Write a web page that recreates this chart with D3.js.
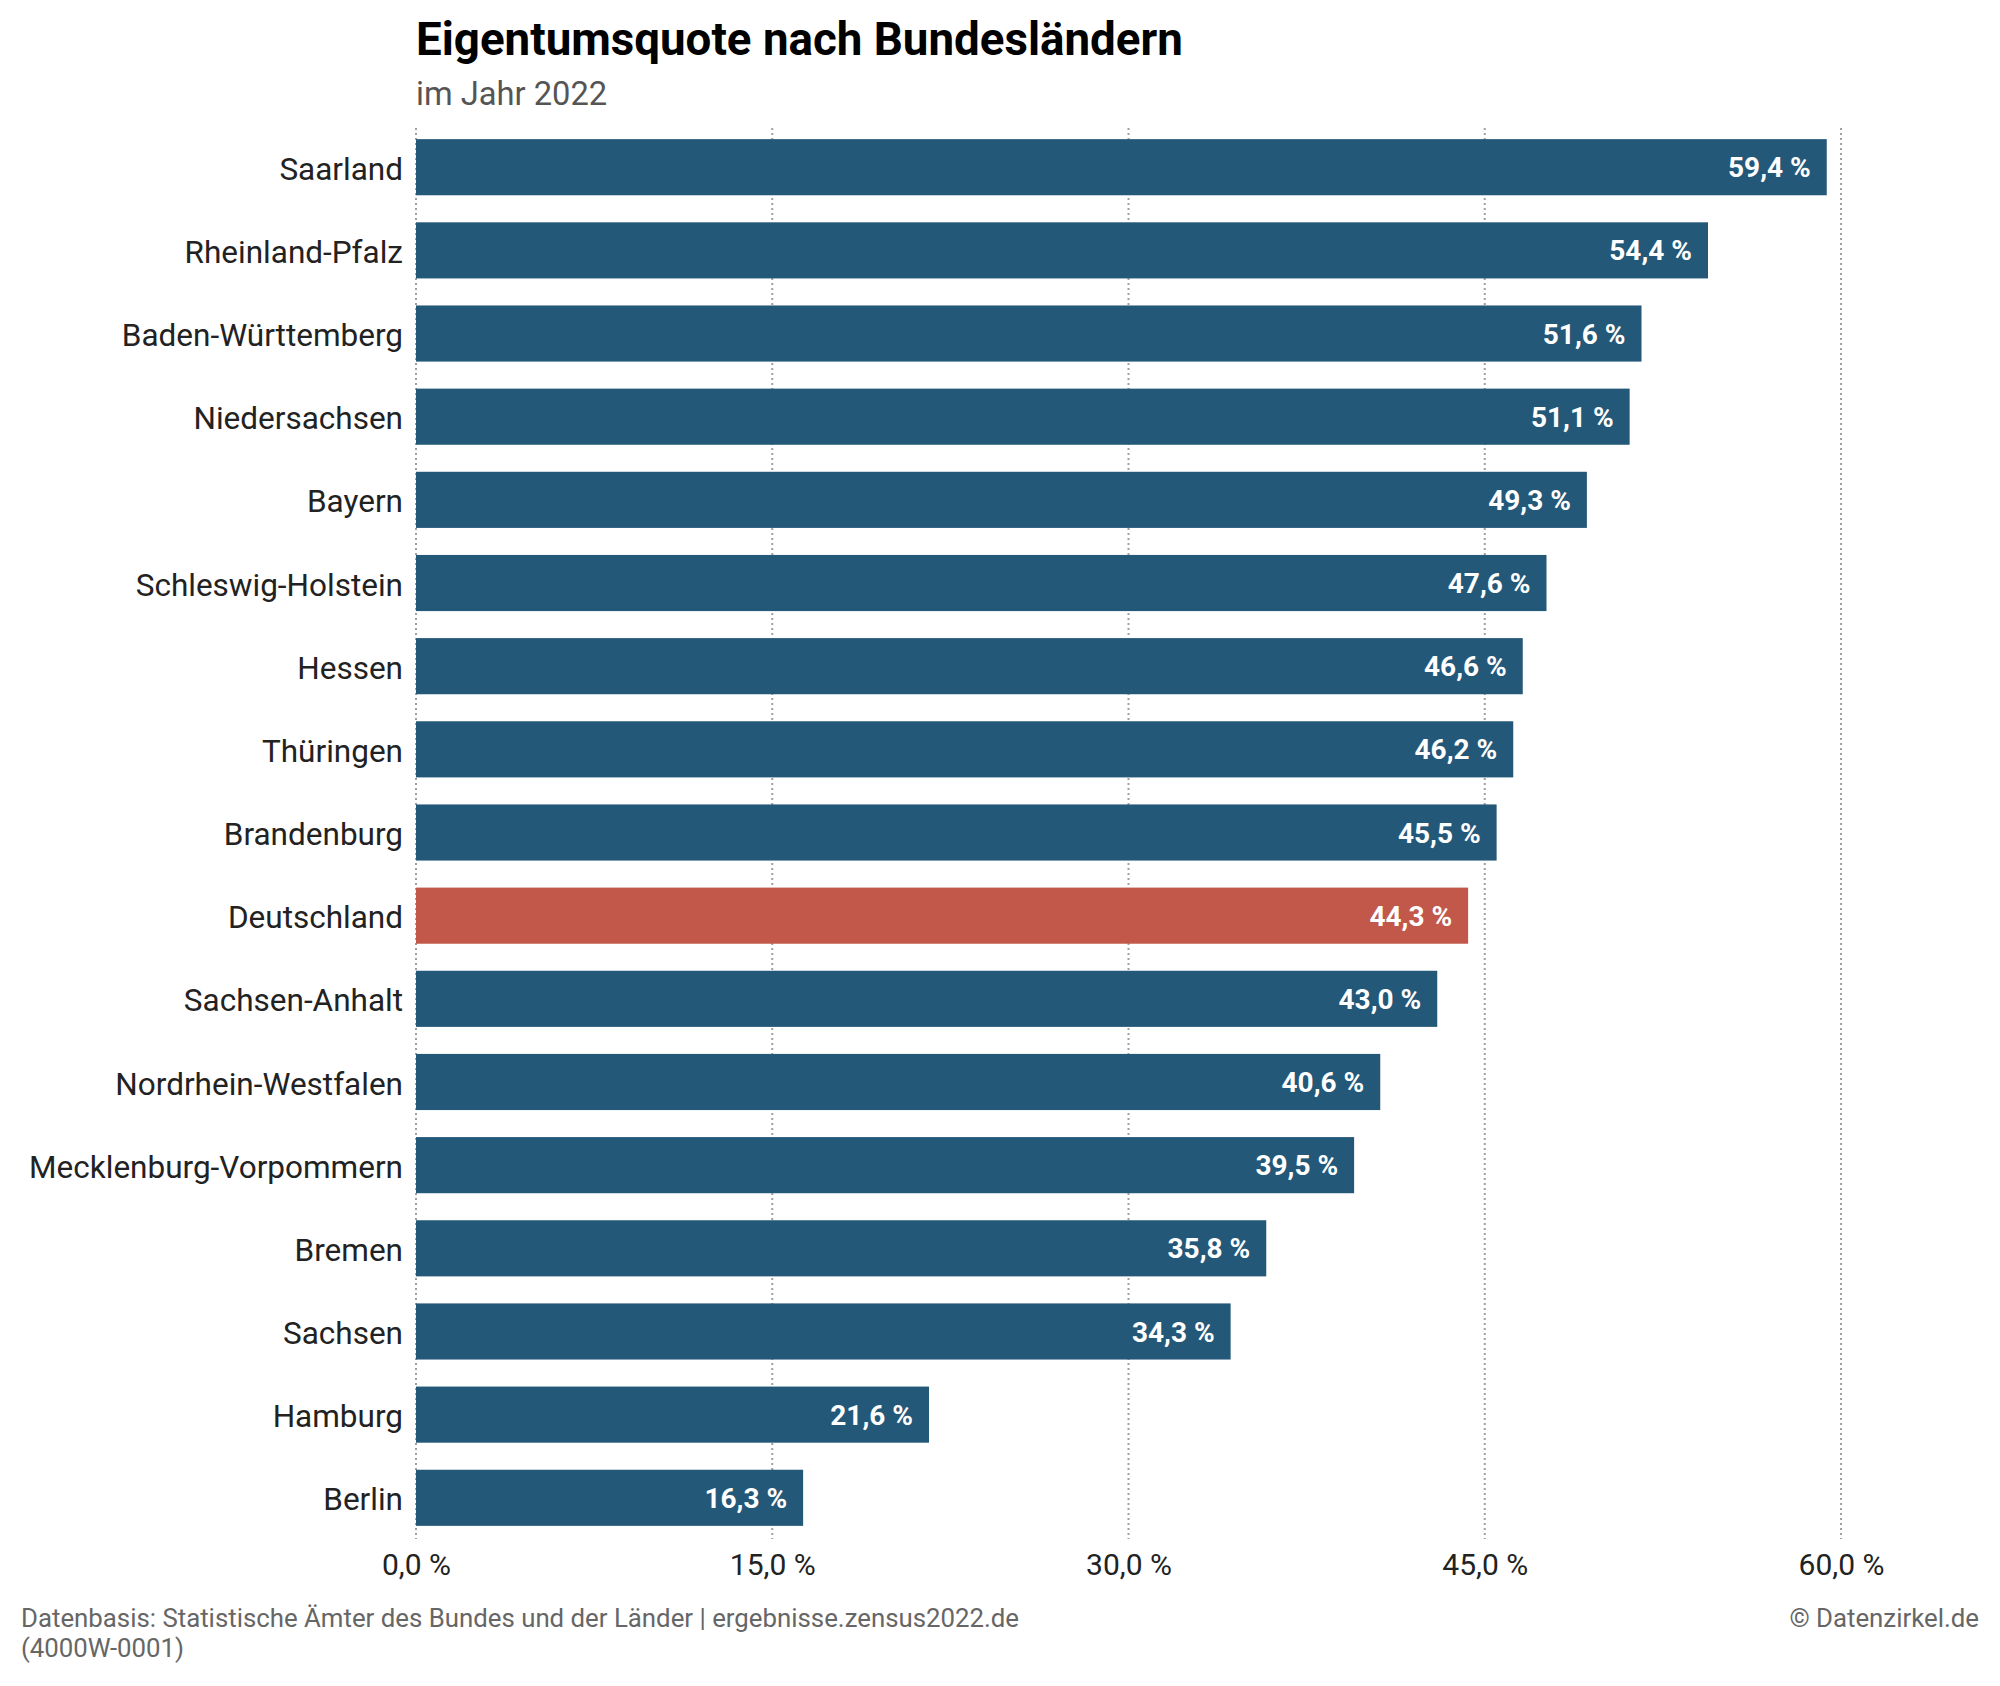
<!DOCTYPE html>
<html><head><meta charset="utf-8">
<script src="https://cdn.jsdelivr.net/npm/d3@7"></script>
<style>
html,body{margin:0;padding:0;background:#fff;}
text{font-family:Roboto,"Noto Sans",sans-serif;}
</style></head>
<body>
<script>
const categories = ["Saarland","Rheinland-Pfalz","Baden-Württemberg","Niedersachsen","Bayern","Schleswig-Holstein","Hessen","Thüringen","Brandenburg","Deutschland","Sachsen-Anhalt","Nordrhein-Westfalen","Mecklenburg-Vorpommern","Bremen","Sachsen","Hamburg","Berlin"];
const values = [59.4,54.4,51.6,51.1,49.3,47.6,46.6,46.2,45.5,44.3,43.0,40.6,39.5,35.8,34.3,21.6,16.3];
const highlight = ["Deutschland"];
const tickValues = [0,15,30,45,60];
const title = "Eigentumsquote nach Bundesländern";
const subtitle = "im Jahr 2022";
const sourceLines = ["Datenbasis: Statistische Ämter des Bundes und der Länder | ergebnisse.zensus2022.de","(4000W-0001)"];
const credit = "© Datenzirkel.de";

const W=2000,H=1686;
const svg=d3.select("body").append("svg").attr("width",W).attr("height",H);
const x=d3.scaleLinear().domain([0,60]).range([416,1841]);
const y=d3.scaleBand().domain(categories).range([125,1540]).paddingInner(0.325).paddingOuter(0.17);
const fmt=v=>d3.format(".1f")(v).replace(".",",")+" %";

// gridlines
svg.append("g").selectAll("line").data(tickValues).join("line")
  .attr("x1",d=>x(d)).attr("x2",d=>x(d)).attr("y1",128).attr("y2",1539)
  .attr("stroke","#a0a0a0").attr("stroke-width",2).attr("stroke-dasharray","2,3");

// bars
const data=categories.map((c,i)=>({c,v:values[i]}));
svg.append("g").selectAll("rect").data(data).join("rect")
  .attr("x",x(0)).attr("y",d=>y(d.c)).attr("width",d=>x(d.v)-x(0)).attr("height",y.bandwidth())
  .attr("fill",d=>highlight.includes(d.c)?"#c1584a":"#245878");

// bar labels
svg.append("g").selectAll("text").data(data).join("text")
  .attr("x",d=>x(d.v)-16).attr("y",d=>y(d.c)+y.bandwidth()/2).attr("dy","0.36em")
  .attr("text-anchor","end").attr("fill","#fff").attr("font-weight","bold").attr("font-size",28)
  .text(d=>fmt(d.v));

// y axis labels
const ya=svg.append("g").attr("transform",`translate(${x(0)},0)`).call(d3.axisLeft(y).tickSize(0).tickPadding(13));
ya.select(".domain").remove();
ya.selectAll("text").attr("font-size",31.5).attr("fill","#222").attr("dy","0.4em").style("font-family","Roboto");

// x axis labels
const xa=svg.append("g").attr("transform","translate(0,1540)").call(d3.axisBottom(x).tickValues(tickValues).tickSize(0).tickPadding(14).tickFormat(fmt));
xa.select(".domain").remove();
xa.selectAll("text").attr("font-size",30).attr("fill","#222").style("font-family","Roboto");

// titles
svg.append("text").attr("x",416).attr("y",55).attr("font-size",45.7).attr("font-weight","bold").attr("fill","#000").text(title);
svg.append("text").attr("x",416).attr("y",105).attr("font-size",32.7).attr("fill","#555").text(subtitle);

// footer
svg.append("g").selectAll("text").data(sourceLines).join("text")
  .attr("x",21).attr("y",(d,i)=>1627+i*30).attr("font-size",25.8).attr("fill","#666").text(d=>d);
svg.append("text").attr("x",1979).attr("y",1627).attr("text-anchor","end").attr("font-size",25.8).attr("fill","#666").text(credit);
</script>
</body></html>
